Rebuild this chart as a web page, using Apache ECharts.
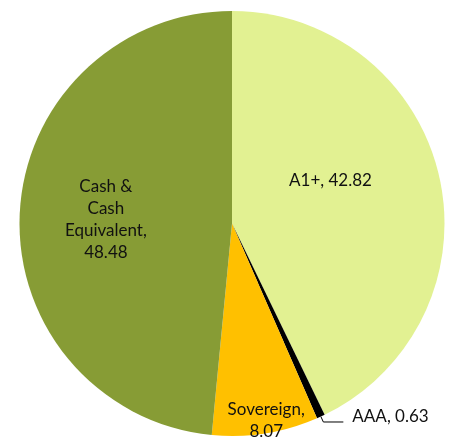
<!DOCTYPE html>
<html>
<head>
<meta charset="utf-8">
<script src="https://cdn.jsdelivr.net/npm/echarts@6/dist/echarts.min.js"></script>
<style>
html,body{margin:0;padding:0;background:#fff;}
#chart{width:455px;height:437px;}
</style>
</head>
<body>
<div id="chart"></div>
<script>
// Data
var categories = ['A1+', 'AAA', 'Sovereign', 'Cash & Cash Equivalent'];
var values = [42.82, 0.63, 8.07, 48.48];

// Styling (not data)
var colors = ['#E2F192', '#000000', '#FFC000', '#879C35'];
var labelShift = [[-8, -19], [0, 0], [17, 89], [-17, 1]];

function labelText(i) {
  var v = values[i].toFixed(2);
  if (i === 3) return 'Cash &\nCash\nEquivalent,\n' + v;
  if (i === 2) return 'Sovereign,\n' + v;
  return categories[i] + ', ' + v;
}

var data = categories.map(function (name, i) {
  var item = {
    name: name,
    value: values[i],
    itemStyle: { color: colors[i] }
  };
  if (i === 1) {
    item.label = { position: 'outside', alignTo: 'none' };
    item.labelLine = { show: true, length: 6, length2: 20, lineStyle: { color: '#000', width: 1 } };
  }
  return item;
});

var chart = echarts.init(document.getElementById('chart'), null, { renderer: 'canvas' });
chart.setOption({
  animation: false,
  backgroundColor: '#fff',
  series: [{
    type: 'pie',
    center: [232, 223.5],
    radius: 212.5,
    startAngle: 90,
    clockwise: true,
    avoidLabelOverlap: false,
    data: data,
    itemStyle: { borderWidth: 0 },
    label: {
      show: true,
      position: 'inside',
      color: '#111',
      fontFamily: 'Lato',
      fontSize: 17,
      lineHeight: 22,
      align: 'center',
      formatter: function (p) { return labelText(p.dataIndex); }
    },
    labelLine: { show: false },
    labelLayout: function (p) {
      if (p.dataIndex === 1) return { dx: 4, dy: -5 };
      return { dx: labelShift[p.dataIndex][0], dy: labelShift[p.dataIndex][1] };
    }
  }]
});
</script>
</body>
</html>
